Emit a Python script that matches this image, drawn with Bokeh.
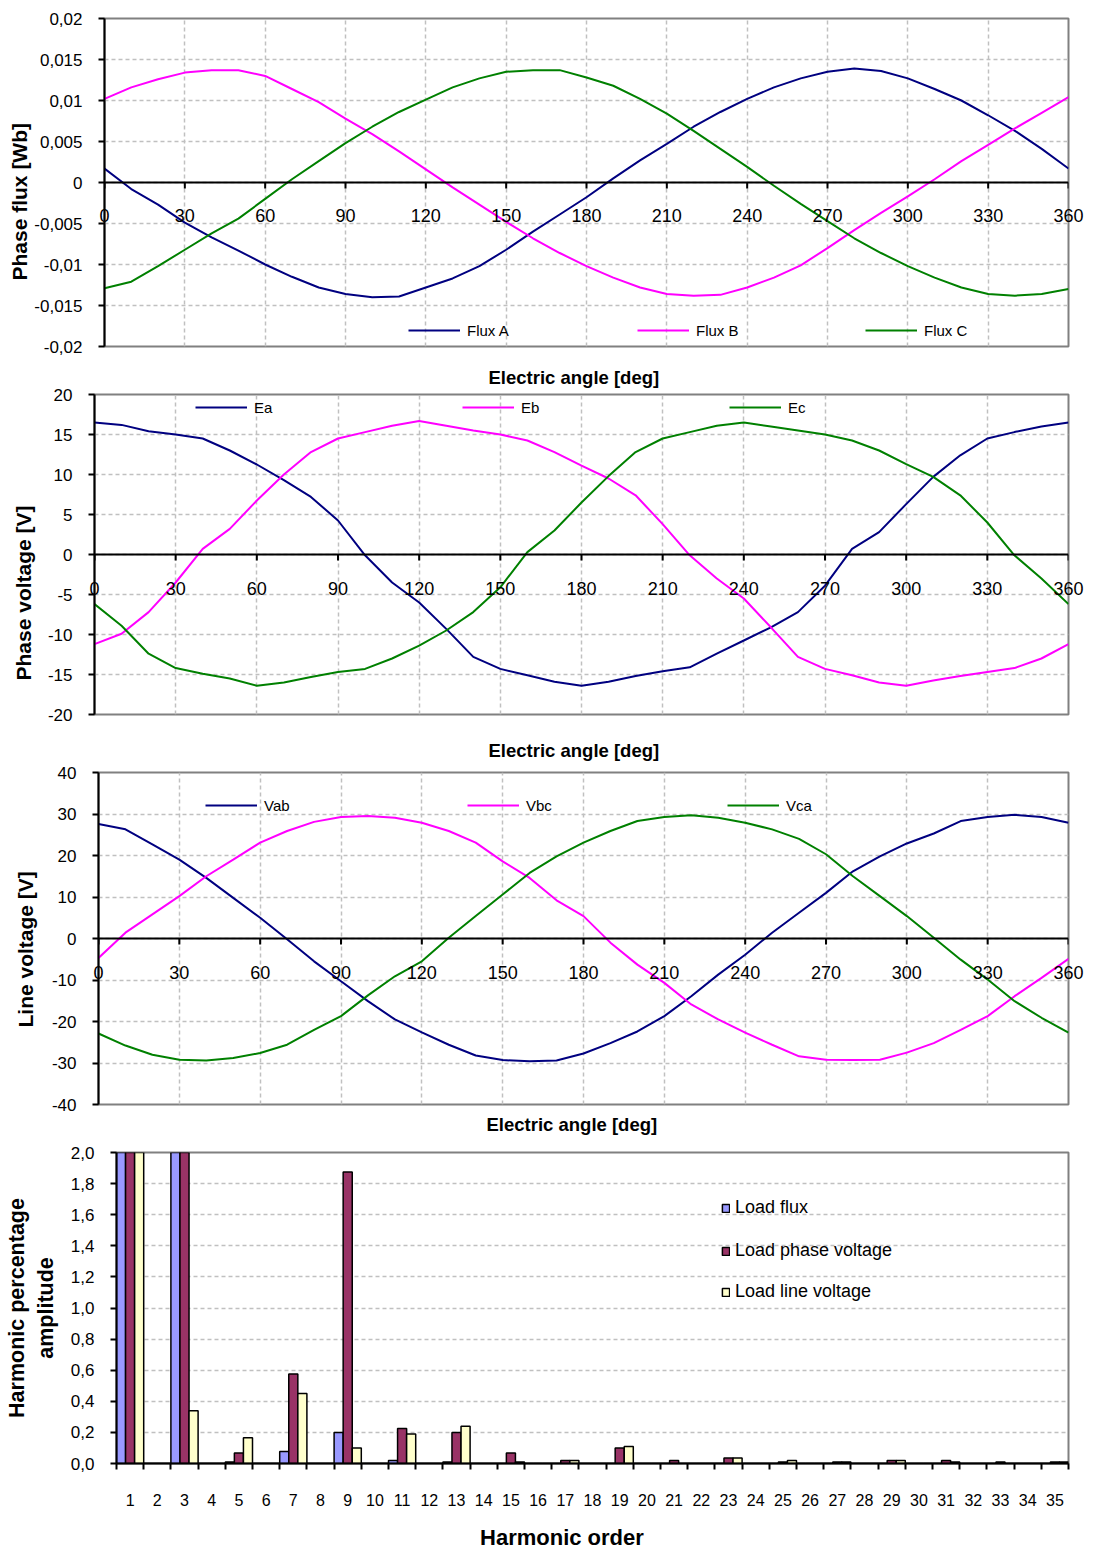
from bokeh.plotting import figure
from bokeh.models import (FixedTicker, CustomJSTickFormatter, Span, Title, LinearAxis,
                          ColumnDataSource, Legend, LegendItem, Range1d)
from bokeh.transform import dodge
from bokeh.embed import file_html
from bokeh.resources import INLINE

# ---------------- data ----------------
angle = list(range(0, 361, 10))

flux_a = [0.0017, -0.0008, -0.0027, -0.0049, -0.0067, -0.0083, -0.0100, -0.0115, -0.0128,
          -0.0136, -0.0140, -0.0139, -0.0128, -0.0117, -0.0102, -0.0082, -0.0060, -0.0039,
          -0.0018, 0.0005, 0.0027, 0.0047, 0.0068, 0.0086, 0.0102, 0.0116, 0.0127, 0.0135,
          0.0139, 0.0136, 0.0127, 0.0114, 0.0100, 0.0082, 0.0063, 0.0041, 0.0017]
flux_b = [0.0102, 0.0116, 0.0126, 0.0134, 0.0137, 0.0137, 0.0130, 0.0114, 0.0098, 0.0078,
          0.0059, 0.0038, 0.0016, -0.0006, -0.0027, -0.0048, -0.0068, -0.0086, -0.0102,
          -0.0116, -0.0128, -0.0136, -0.0138, -0.0137, -0.0128, -0.0116, -0.0101, -0.0080,
          -0.0058, -0.0037, -0.0017, 0.0004, 0.0026, 0.0046, 0.0066, 0.0085, 0.0104]
flux_c = [-0.0129, -0.0121, -0.0102, -0.0082, -0.0062, -0.0044, -0.0020, 0.0004, 0.0026,
          0.0048, 0.0068, 0.0086, 0.0101, 0.0116, 0.0127, 0.0135, 0.0137, 0.0137, 0.0128,
          0.0118, 0.0102, 0.0084, 0.0063, 0.0041, 0.0019, -0.0004, -0.0026, -0.0047,
          -0.0068, -0.0086, -0.0102, -0.0116, -0.0128, -0.0136, -0.0138, -0.0136, -0.0130]

ea = [16.5, 16.2, 15.4, 15.0, 14.5, 13.0, 11.25, 9.3, 7.2, 4.25, -0.1, -3.5, -6.0, -9.3,
      -12.8, -14.3, -15.1, -15.9, -16.4, -15.9, -15.2, -14.6, -14.1, -12.4, -10.75, -9.1,
      -7.2, -3.9, 0.7, 2.8, 6.3, 9.7, 12.4, 14.5, 15.3, 16.0, 16.5]
eb = [-11.2, -9.9, -7.2, -3.5, 0.7, 3.2, 6.75, 10.0, 12.8, 14.5, 15.3, 16.1, 16.7, 16.1,
      15.5, 15.0, 14.25, 12.8, 11.1, 9.5, 7.4, 3.8, -0.1, -3.0, -5.5, -9.1, -12.8, -14.3,
      -15.1, -16.0, -16.4, -15.75, -15.2, -14.7, -14.2, -13.0, -11.2]
ec = [-6.2, -8.9, -12.4, -14.2, -14.9, -15.5, -16.4, -16.0, -15.3, -14.7, -14.3, -13.0,
      -11.4, -9.5, -7.2, -4.1, 0.3, 3.0, 6.5, 9.8, 12.8, 14.5, 15.3, 16.1, 16.5, 16.0, 15.5,
      15.0, 14.25, 13.0, 11.3, 9.7, 7.4, 4.0, -0.1, -3.0, -6.2]

vab = [27.6, 26.3, 22.7, 19.0, 14.6, 9.8, 5.0, -0.2, -5.5, -10.3, -15.1, -19.5, -22.6, -25.6,
       -28.2, -29.3, -29.6, -29.4, -27.7, -25.2, -22.4, -18.7, -13.9, -8.7, -3.9, 1.4, 6.2,
       11.0, 16.2, 19.8, 22.9, 25.3, 28.3, 29.3, 29.8, 29.3, 27.9]
vbc = [-4.7, 1.4, 5.8, 10.2, 15.0, 19.0, 23.1, 25.9, 28.1, 29.3, 29.5, 29.1, 27.9, 25.9, 23.1,
       18.6, 14.6, 9.2, 5.4, -1.0, -6.3, -10.7, -15.9, -19.5, -22.7, -25.6, -28.4, -29.2,
       -29.3, -29.2, -27.5, -25.2, -22.0, -18.7, -13.9, -9.5, -4.9]
vca = [-22.9, -25.8, -28.0, -29.2, -29.4, -28.8, -27.6, -25.6, -22.0, -18.7, -13.7, -9.1,
       -5.5, 0.2, 5.4, 10.6, 15.8, 19.8, 23.1, 25.9, 28.3, 29.3, 29.7, 29.1, 27.9, 26.3, 24.0,
       20.3, 15.0, 10.2, 5.4, 0.2, -5.1, -9.9, -15.1, -19.1, -22.7]

angle_ticks = list(range(0, 361, 30))
flux_ticks = [-0.02, -0.015, -0.01, -0.005, 0.0, 0.005, 0.01, 0.015, 0.02]
phase_v_ticks = [-20, -15, -10, -5, 0, 5, 10, 15, 20]
line_v_ticks = [-40, -30, -20, -10, 0, 10, 20, 30, 40]

harmonic_order = list(range(1, 36))
load_flux = [100, 0, 3.0, 0, 0.01, 0, 0.077, 0, 0.20, 0, 0.02, 0, 0.01, 0, 0.0, 0, 0.0, 0,
             0.0, 0, 0.0, 0, 0.0, 0, 0.0, 0, 0.0, 0, 0.0, 0, 0.0, 0, 0.0, 0, 0.0]
load_phase_voltage = [100, 0, 20, 0, 0.067, 0, 0.575, 0, 1.875, 0, 0.225, 0, 0.20, 0, 0.067,
                      0, 0.02, 0, 0.10, 0, 0.02, 0, 0.035, 0, 0.01, 0, 0.01, 0, 0.02, 0,
                      0.02, 0, 0.01, 0, 0.01]
load_line_voltage = [100, 0, 0.34, 0, 0.165, 0, 0.45, 0, 0.10, 0, 0.19, 0, 0.24, 0, 0.01, 0,
                     0.02, 0, 0.11, 0, 0.0, 0, 0.035, 0, 0.02, 0, 0.01, 0, 0.02, 0, 0.01, 0,
                     0.0, 0, 0.01]
harm_y_ticks = [0.0, 0.2, 0.4, 0.6, 0.8, 1.0, 1.2, 1.4, 1.6, 1.8, 2.0]
harm_boundaries = [h - 0.5 for h in harmonic_order] + [35.5]

# ---------------- style ----------------
FONT = "Liberation Sans"
NAVY, MAGENTA, GREEN = "#000080", "#FF00FF", "#008000"
GRID = "#C0C0C0"
FRAME = "#808080"
FIG_W = 1088
XTITLE = "Electric angle [deg]"


def style_y(p, ticks, fmt):
    p.outline_line_color = FRAME
    p.outline_line_width = 2
    p.background_fill_color = "white"
    p.border_fill_color = "white"
    ax = p.yaxis[0]
    ax.ticker = FixedTicker(ticks=ticks)
    ax.formatter = CustomJSTickFormatter(code=fmt)
    ax.axis_line_color = "black"
    ax.axis_line_width = 2
    ax.major_tick_line_color = "black"
    ax.major_tick_line_width = 2
    ax.major_tick_out = 6
    ax.major_tick_in = 0
    ax.minor_tick_line_color = None
    ax.major_label_standoff = 16
    ax.major_label_text_font = FONT
    ax.major_label_text_font_size = "17px"
    ax.major_label_text_color = "black"
    p.ygrid.ticker = FixedTicker(ticks=ticks)
    p.ygrid.grid_line_color = GRID
    p.ygrid.grid_line_dash = "4 3"
    p.ygrid.grid_line_width = 1.5


def add_title(p, text, place, size, standoff, offset):
    t = Title(text=text, align="left", text_font=FONT, text_font_size=size,
              text_font_style="bold", text_color="black", standoff=standoff, offset=offset)
    p.add_layout(t, place)
    return t


def line_panel(height, bl, bt, bb, y0, y1, yticks, yfmt, ylabel, ylab_so, ylab_off,
               series, names, leg_x, leg_y, lbl_off, below_title=None):
    p = figure(width=FIG_W, height=height, x_range=Range1d(0, 360),
               y_range=Range1d(y0, y1), output_backend="svg", toolbar_location=None,
               tools="", min_border_left=bl, min_border_right=20, min_border_top=bt,
               min_border_bottom=bb, x_axis_location=None)
    style_y(p, yticks, yfmt)
    p.xgrid.ticker = FixedTicker(ticks=angle_ticks)
    p.xgrid.grid_line_color = GRID
    p.xgrid.grid_line_dash = "4 3"
    p.xgrid.grid_line_width = 1.5

    frame_h = height - bt - bb
    # zero line with its angle ticks
    p.add_layout(Span(location=0, dimension="width", line_color="black", line_width=2))
    tick_len = (y1 - y0) * 6.0 / frame_h
    p.segment(x0=angle_ticks, y0=[0] * len(angle_ticks), x1=angle_ticks,
              y1=[-tick_len] * len(angle_ticks), line_color="black", line_width=2)

    pre = 0.0
    if below_title is not None:
        so, off = below_title
        add_title(p, XTITLE, "below", "18.5px", so, off)
        pre = so + 22.7
    # angle labels: an axis whose labels are pulled up to just under the zero line
    zero_px = (0 - y0) / (y1 - y0) * frame_h
    lax = LinearAxis(ticker=FixedTicker(ticks=angle_ticks),
                     formatter=CustomJSTickFormatter(code="return tick.toFixed(0);"))
    lax.axis_line_color = None
    lax.major_tick_line_color = None
    lax.minor_tick_line_color = None
    lax.major_tick_out = 0
    lax.major_tick_in = 0
    lax.major_label_standoff = int(round(-zero_px + lbl_off - 7 - pre))
    lax.major_label_text_font = FONT
    lax.major_label_text_font_size = "18px"
    lax.major_label_text_color = "black"
    p.add_layout(lax, "below")

    add_title(p, ylabel, "left", "21px", ylab_so, ylab_off)

    rs = []
    for ys, col in zip(series, [NAVY, MAGENTA, GREEN]):
        rs.append(p.line(angle, ys, line_color=col, line_width=2))
    for r, name, lx in zip(rs, names, leg_x):
        lg = Legend(items=[LegendItem(label=name, renderers=[r])], location=(lx, leg_y),
                    orientation="horizontal", padding=0, margin=0, spacing=0,
                    border_line_color=None, background_fill_alpha=0,
                    label_text_font=FONT, label_text_font_size="15px",
                    label_text_color="black", glyph_width=52, glyph_height=20,
                    label_standoff=7, label_height=20)
        p.add_layout(lg)
    return p


flux_fmt = "return parseFloat(tick.toFixed(3)).toString().replace('.', ',');"
int_fmt = "return tick.toFixed(0);"

p1 = line_panel(357, 104, 18, 11, -0.02, 0.02, flux_ticks, flux_fmt, "Phase flux [Wb]", 2, 66,
                [flux_a, flux_b, flux_c], ["Flux A", "Flux B", "Flux C"],
                [304, 533, 761], 6, 33)
p2 = line_panel(368, 92, 37, 11, -20, 20, phase_v_ticks, int_fmt, "Phase voltage [V]", 19, 34,
                [ea, eb, ec], ["Ea", "Eb", "Ec"], [101, 368, 635], 297, 34)
p3 = line_panel(416, 96, 47, 37, -40, 40, line_v_ticks, int_fmt, "Line voltage [V]", 23, 77,
                [vab, vbc, vca], ["Vab", "Vbc", "Vca"], [107, 369, 629], 289, 34,
                below_title=(14, 388))
# x-axis titles of panels 1 and 2 sit in the top border of the next panel
add_title(p2, XTITLE, "above", "18.5px", 14, 394)
add_title(p3, XTITLE, "above", "18.5px", 24, 390)

# ---------------- harmonic bar chart ----------------
p4 = figure(width=FIG_W, height=411, x_range=Range1d(0.5, 35.5), y_range=Range1d(0, 2.0),
            output_backend="svg", toolbar_location=None, tools="",
            min_border_left=116, min_border_right=20, min_border_top=11,
            min_border_bottom=86)
style_y(p4, harm_y_ticks, "return tick.toFixed(1).replace('.', ',');")
ay = p4.yaxis[0]
ay.axis_label = "Harmonic percentage\namplitude"
ay.axis_label_text_font = FONT
ay.axis_label_text_font_size = "21.5px"
ay.axis_label_text_font_style = "bold"
ay.axis_label_text_color = "black"
ay.axis_label_standoff = 10
p4.xgrid.grid_line_color = None
bx = p4.xaxis[0]
bx.ticker = FixedTicker(ticks=harmonic_order, minor_ticks=harm_boundaries)
bx.axis_line_color = "black"
bx.axis_line_width = 2
bx.major_tick_line_color = None
bx.major_tick_out = 0
bx.major_tick_in = 0
bx.minor_tick_line_color = "black"
bx.minor_tick_line_width = 2
bx.minor_tick_out = 6
bx.minor_tick_in = 0
bx.major_label_standoff = 24
bx.major_label_text_font = FONT
bx.major_label_text_font_size = "16px"
bx.major_label_text_color = "black"
# title shifted left of the frame centre with trailing no-break spaces
bx.axis_label = "Harmonic order" + "\u00a0" * 10
bx.axis_label_text_font = FONT
bx.axis_label_text_font_size = "22px"
bx.axis_label_text_font_style = "bold"
bx.axis_label_text_color = "black"
bx.axis_label_standoff = 16

bsrc = ColumnDataSource(dict(h=harmonic_order, flux=load_flux, phase=load_phase_voltage,
                             line=load_line_voltage))
third = 1.0 / 3.0
rb1 = p4.vbar(x=dodge("h", -third, range=p4.x_range), top="flux", width=third, source=bsrc,
              fill_color="#9999FF", line_color="black", line_width=1.5)
rb2 = p4.vbar(x=dodge("h", 0.0, range=p4.x_range), top="phase", width=third, source=bsrc,
              fill_color="#993366", line_color="black", line_width=1.5)
rb3 = p4.vbar(x=dodge("h", third, range=p4.x_range), top="line", width=third, source=bsrc,
              fill_color="#FFFFCC", line_color="black", line_width=1.5)
for r, name, ly in zip([rb1, rb2, rb3],
                       ["Load flux", "Load phase voltage", "Load line voltage"],
                       [245, 202, 161]):
    lg = Legend(items=[LegendItem(label=name, renderers=[r])], location=(605, ly),
                padding=0, margin=0, spacing=0, border_line_color=None,
                background_fill_alpha=0, label_text_font=FONT, label_text_font_size="18px",
                label_text_color="black", glyph_width=9, glyph_height=10,
                label_standoff=5, label_height=20)
    p4.add_layout(lg)

open("out.html", "w").write(file_html([p1, p2, p3, p4], INLINE))
